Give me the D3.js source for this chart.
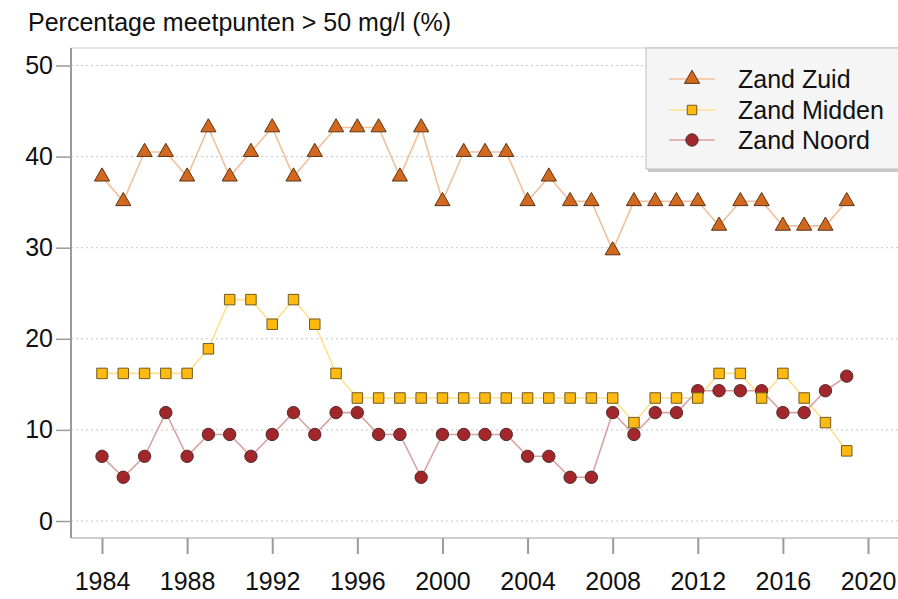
<!DOCTYPE html>
<html>
<head>
<meta charset="utf-8">
<script src="https://cdn.jsdelivr.net/npm/d3@7"></script>
<style>
  html, body { margin: 0; padding: 0; background: #fff; }
  svg { display: block; font-family: "Liberation Sans", Arial, sans-serif; }
</style>
</head>
<body>
<svg id="chart" width="898" height="599"></svg>
<script>
// Jaren 1984–2019
const years = d3.range(1984, 2020);

// Percentage meetpunten > 50 mg/l per regio
const zandZuid = [37.8, 35.1, 40.5, 40.5, 37.8, 43.2, 37.8, 40.5, 43.2, 37.8,
                  40.5, 43.2, 43.2, 43.2, 37.8, 43.2, 35.1, 40.5, 40.5, 40.5,
                  35.1, 37.8, 35.1, 35.1, 29.7, 35.1, 35.1, 35.1, 35.1, 32.4,
                  35.1, 35.1, 32.4, 32.4, 32.4, 35.1];
const zandMidden = [16.2, 16.2, 16.2, 16.2, 16.2, 18.9, 24.3, 24.3, 21.6, 24.3,
                    21.6, 16.2, 13.5, 13.5, 13.5, 13.5, 13.5, 13.5, 13.5, 13.5,
                    13.5, 13.5, 13.5, 13.5, 13.5, 10.8, 13.5, 13.5, 13.5, 16.2,
                    16.2, 13.5, 16.2, 13.5, 10.8, 7.7];
const zandNoord = [7.1, 4.8, 7.1, 11.9, 7.1, 9.5, 9.5, 7.1, 9.5, 11.9,
                   9.5, 11.9, 11.9, 9.5, 9.5, 4.8, 9.5, 9.5, 9.5, 9.5,
                   7.1, 7.1, 4.8, 4.8, 11.9, 9.5, 11.9, 11.9, 14.3, 14.3,
                   14.3, 14.3, 11.9, 11.9, 14.3, 15.9];

const xTicks = d3.range(1984, 2021, 4);
const yTicks = [0, 10, 20, 30, 40, 50];
const title = "Percentage meetpunten > 50 mg/l (%)";

const series = [
  { name: "Zand Zuid",   values: zandZuid,   symbol: d3.symbolTriangle, size: 100,
    fill: "#d2691e", stroke: "#5b3416", line: "#f2c09c" },
  { name: "Zand Midden", values: zandMidden, symbol: d3.symbolSquare,   size: 110,
    fill: "#ffb90f", stroke: "#6e5a22", line: "#ffe08c" },
  { name: "Zand Noord",  values: zandNoord,  symbol: d3.symbolCircle,   size: 120,
    fill: "#a3262a", stroke: "#4e2a2a", line: "#d9a2a2" }
];

const svg = d3.select("#chart");
const W = 898;
const plotLeft = 71, plotTop = 48, plotBottom = 538;

const x = d3.scaleLinear().domain([1984, 2020]).range([102, 868]);
const y = d3.scaleLinear().domain([0, 50]).range([521, 65.5]);

// Title
svg.append("text")
  .attr("x", 28).attr("y", 31)
  .attr("font-size", 25)
  .attr("fill", "#111")
  .text(title);

// Grid lines (dotted)
svg.append("g").selectAll("line").data(yTicks).join("line")
  .attr("x1", plotLeft).attr("x2", W)
  .attr("y1", d => y(d)).attr("y2", d => y(d))
  .attr("stroke", "#c8c8c8").attr("stroke-width", 1)
  .attr("stroke-dasharray", "2,3");

// Frame
svg.append("line").attr("x1", plotLeft).attr("x2", W).attr("y1", plotTop).attr("y2", plotTop)
  .attr("stroke", "#dcdcdc").attr("stroke-width", 1.5);
svg.append("line").attr("x1", plotLeft).attr("x2", W).attr("y1", plotBottom).attr("y2", plotBottom)
  .attr("stroke", "#cfcfcf").attr("stroke-width", 2);

// Y axis
const yAxis = d3.axisLeft(y).tickValues(yTicks).tickSize(15).tickPadding(3).tickFormat(d3.format("d"));
const gy = svg.append("g").attr("transform", `translate(${plotLeft},0)`).call(yAxis);
gy.select(".domain").remove();
gy.append("line").attr("x1", 0).attr("x2", 0).attr("y1", plotTop).attr("y2", plotBottom)
  .attr("stroke", "#9a9a9a").attr("stroke-width", 2);
gy.selectAll(".tick line").attr("stroke", "#9a9a9a").attr("stroke-width", 1.5);
gy.selectAll(".tick text").attr("font-size", 25).attr("fill", "#111")
  .attr("font-family", "Liberation Sans, Arial, sans-serif");

// X axis
const xAxis = d3.axisBottom(x).tickValues(xTicks).tickSize(16).tickPadding(18).tickFormat(d3.format("d"));
const gx = svg.append("g").attr("transform", `translate(0,${plotBottom})`).call(xAxis);
gx.select(".domain").remove();
gx.selectAll(".tick line").attr("stroke", "#9a9a9a").attr("stroke-width", 2);
gx.selectAll(".tick text").attr("font-size", 25).attr("fill", "#111")
  .attr("font-family", "Liberation Sans, Arial, sans-serif");

// Series lines and markers
const line = d3.line().x((d, i) => x(years[i])).y(d => y(d));

series.forEach(s => {
  svg.append("path")
    .datum(s.values)
    .attr("d", line)
    .attr("fill", "none")
    .attr("stroke", s.line)
    .attr("stroke-width", 1.6);
});

series.slice().reverse().forEach(s => {
  const sym = d3.symbol().type(s.symbol).size(s.size);
  svg.append("g").selectAll("path").data(s.values).join("path")
    .attr("transform", (d, i) => `translate(${x(years[i])},${y(d)})`)
    .attr("d", sym)
    .attr("fill", s.fill)
    .attr("stroke", s.stroke)
    .attr("stroke-width", 1);
});

// Legend
const lg = svg.append("g");
lg.append("rect")
  .attr("x", 648).attr("y", 50).attr("width", 260).attr("height", 122)
  .attr("fill", "#c8c8c8");
lg.append("rect")
  .attr("x", 646).attr("y", 48).attr("width", 260).attr("height", 121)
  .attr("fill", "#f5f5f5").attr("stroke", "#bdbdbd").attr("stroke-width", 1);

const legendY = [79, 110, 140];
series.forEach((s, i) => {
  const ly = legendY[i];
  lg.append("line").attr("x1", 669).attr("x2", 715).attr("y1", ly).attr("y2", ly)
    .attr("stroke", s.line).attr("stroke-width", 1.6);
  lg.append("path")
    .attr("transform", `translate(692,${ly})`)
    .attr("d", d3.symbol().type(s.symbol).size(s.symbol === d3.symbolSquare ? 90 : s.size)())
    .attr("fill", s.fill).attr("stroke", s.stroke).attr("stroke-width", 1);
  lg.append("text")
    .attr("x", 738).attr("y", ly).attr("dy", "0.35em")
    .attr("font-size", 25).attr("fill", "#111")
    .text(s.name);
});
</script>
</body>
</html>
